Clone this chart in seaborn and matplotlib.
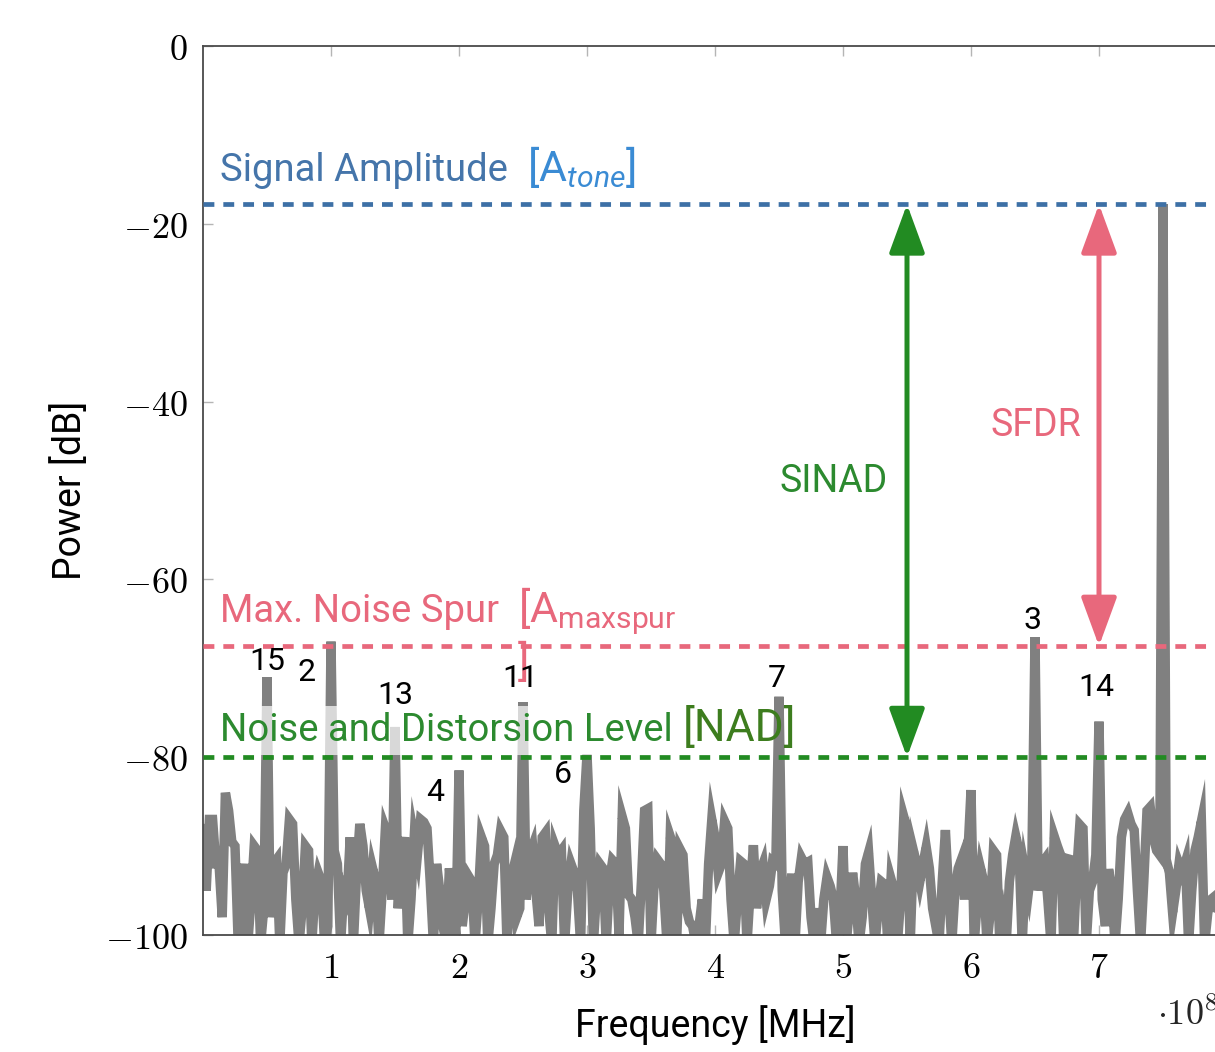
import numpy as np
import pandas as pd
import seaborn as sns
import matplotlib
matplotlib.use("Agg")
import matplotlib.pyplot as plt
from matplotlib.ticker import FixedLocator, FuncFormatter

# ---------------------------------------------------------------- data
bin_step_hz = 0.025e8  # FFT bin spacing

# power spectrum, one value per bin from 0 Hz to 8e8 Hz (10 bins per row = 0.25e8 Hz)
power_db = [
    -88, -95, -87, -87, -92, -92, -98, -84, -86, -89.5,
    -90, -101, -95, -92, -101, -96, -90, -90.5, -101, -97,
    -71, -98, -92, -91.5, -101, -93, -92, -87, -87.5, -96,
    -101, -97, -90, -90.5, -101, -95, -93, -94, -101, -99,
    -67, -90.5, -92, -101, -95, -96, -89, -101, -93, -87.5,
    -90, -95, -97, -92.5, -94, -101, -95, -88, -89, -96,
    -76.6, -97, -91.5, -89, -101, -96, -89, -91, -87, -87.3,
    -88, -94, -101, -92, -95, -99, -101, -92.5, -96, -100,
    -81.5, -99, -96, -93.4, -94, -101, -96, -89, -90, -101,
    -97, -92, -91, -88.3, -89, -101, -94, -92.5, -98, -97,
    -73.8, -96, -91, -90, -95, -99, -89, -88.5, -97, -101,
    -90, -91, -90.5, -101, -95, -92, -93, -95, -101, -86,
    -79.7, -88, -101, -95, -92, -92.5, -101, -94, -91.6, -92,
    -100, -86.7, -88, -95.5, -96, -98, -101, -94, -86, -85.8,
    -101, -94, -91.5, -92, -95, -101, -88.9, -90, -101, -90.3,
    -91, -97, -98.5, -99, -101, -99, -96, -101, -92, -87,
    -89, -93, -92, -87.2, -88, -96, -101, -96, -91.7, -92,
    -101, -95, -89.9, -97, -93, -92, -96, -94.5, -91.7, -92,
    -73.2, -95, -101, -97, -93.1, -101, -94, -91.3, -92, -91.8,
    -98, -101, -97, -101, -96, -93.5, -94.5, -96, -101, -98,
    -90, -101, -97, -93, -96, -101, -98, -92, -90.7, -96,
    -101, -97, -94, -94.3, -101, -93.7, -95, -101, -96, -86.7,
    -88, -101, -90.5, -92, -94, -92, -90.1, -92.5, -97, -99,
    -101, -94, -88.2, -95, -101, -95, -92.5, -91.5, -96, -91,
    -83.7, -101, -96, -92.5, -94, -101, -97.5, -90.5, -91, -101,
    -98.5, -101, -94, -91, -88.9, -90.5, -101, -93, -95, -92,
    -66.5, -95, -92, -91.5, -96, -101, -88.9, -90, -91, -101,
    -91.4, -91.5, -101, -93, -87.6, -88, -101, -95, -94, -91,
    -76, -96, -99, -92.6, -95, -101, -96, -89, -87, -86.3,
    -87.5, -88.2, -95, -101, -94, -86, -85.6, -89, -90.5, -91,
    -17.8, -91.5, -93, -97.5, -95, -92, -93, -91.8, -101, -95,
    -90.5, -89, -87.2, -101, -97.5, -96, -95.7, -98, -96, -101,
    -97,
]
freq_hz = np.arange(len(power_db)) * bin_step_hz

# reference levels [dB]
tone_db = -17.8
max_spur_db = -67.5
nad_db = -80.0

# harmonic orders and the bins they fall into
harmonic_orders = [15, 2, 13, 4, 11, 6, 7, 3, 14]
harmonic_freq_hz = [0.5e8, 1.0e8, 1.5e8, 2.0e8, 2.5e8, 3.0e8, 4.5e8, 6.5e8, 7.0e8]

x_ticks_hz = [1e8, 2e8, 3e8, 4e8, 5e8, 6e8, 7e8]
y_ticks_db = [0, -20, -40, -60, -80, -100]

# ---------------------------------------------------------------- style
sns.set_theme(style="white")
plt.rcParams["font.family"] = ["Roboto", "DejaVu Sans"]
plt.rcParams["mathtext.fontset"] = "cm"
plt.rcParams["mathtext.rm"] = "Roboto"
plt.rcParams["mathtext.it"] = "Roboto:italic"
plt.rcParams["mathtext.bf"] = "Roboto:bold"

c_spec = "#808080"
c_blue = "#3d70a6"
c_blue_txt = "#4575aa"
c_blue_br = "#3a8bd4"
c_pink = "#e8687c"
c_green = "#228b22"
c_green_txt = "#2c8a2f"
c_green_br = "#3d7d1e"

fig = plt.figure(figsize=(12.15, 10.52), dpi=100)
# the frequency axis runs on past the right edge of the figure
ax = fig.add_axes([203 / 1215, 117 / 1052, 1024 / 1215, 889 / 1052])

df = pd.DataFrame({"freq": freq_hz, "power": power_db})
sns.lineplot(data=df, x="freq", y="power", ax=ax, color=c_spec, linewidth=6.8,
             estimator=None, sort=False, solid_joinstyle="miter", zorder=2)

dash_kw = dict(lw=3.4, dashes=(2.3, 1.9), zorder=3)
ax.axhline(tone_db, color=c_blue, **dash_kw)
ax.axhline(max_spur_db, color=c_pink, **dash_kw)
ax.axhline(nad_db, color=c_green, **dash_kw)

# SINAD / SFDR double arrows
arrow_style = "<|-|>,head_length=1.5,head_width=0.55"
ax.annotate("", xy=(5.5e8, nad_db), xytext=(5.5e8, tone_db),
            arrowprops=dict(arrowstyle=arrow_style, mutation_scale=20, lw=3.6,
                            color=c_green, shrinkA=0, shrinkB=0), zorder=4)
ax.annotate("", xy=(7.0e8, max_spur_db), xytext=(7.0e8, tone_db),
            arrowprops=dict(arrowstyle=arrow_style, mutation_scale=20, lw=3.6,
                            color=c_pink, shrinkA=0, shrinkB=0), zorder=4)
ax.text(4.93e8, -49.0, "SINAD", color=c_green_txt, fontsize=27,
        ha="center", va="center", zorder=5)
ax.text(6.51e8, -42.7, "SFDR", color=c_pink, fontsize=27,
        ha="center", va="center", zorder=5)

# level captions
ax.text(0.13e8, -15.2, "Signal Amplitude", color=c_blue_txt, fontsize=27.5,
        va="baseline", zorder=5)
ax.text(2.53e8, -15.2, r"$\mathregular{[A}_{\mathit{tone}}\mathregular{]}$",
        color=c_blue_br, fontsize=31, va="baseline", math_fontfamily="custom", zorder=5)

ax.text(0.13e8, -64.8, "Max. Noise Spur", color=c_pink, fontsize=27.5,
        va="baseline", zorder=5)
ax.text(2.46e8, -64.8, r"$\mathregular{[A}_{\mathregular{maxspur}}$",
        color=c_pink, fontsize=31, va="baseline", math_fontfamily="custom", zorder=5)
ax.text(2.46e8, -69.4, "]", color=c_pink, fontsize=31, va="center", zorder=5)

ax.text(0.13e8, -78.2, "Noise and Distorsion Level", color=c_green_txt, fontsize=27.5,
        va="baseline", zorder=5,
        bbox=dict(boxstyle="square,pad=0.15", facecolor="white", alpha=0.7,
                  edgecolor="none"))
ax.text(3.75e8, -78.2, "[NAD]", color=c_green_br, fontsize=32,
        va="baseline", zorder=5)

# harmonic order labels
label_pos = {15: (0.5e8, -69.2), 2: (0.81e8, -70.5), 13: (1.5e8, -73.1),
             4: (1.81e8, -84.0), 11: (2.48e8, -71.2), 6: (2.81e8, -82.0),
             7: (4.48e8, -71.2), 3: (6.48e8, -64.6), 14: (6.98e8, -72.2)}
for order, f in zip(harmonic_orders, harmonic_freq_hz):
    lx, ly = label_pos[order]
    ax.text(lx, ly, str(order), color="black", fontsize=23,
            ha="center", va="center", zorder=5)

# ---------------------------------------------------------------- axes
ax.set_xlim(0, 8e8)
ax.set_ylim(-100, 0)
ax.xaxis.set_major_locator(FixedLocator(x_ticks_hz))
ax.yaxis.set_major_locator(FixedLocator(y_ticks_db))
ax.xaxis.set_major_formatter(FuncFormatter(lambda v, p: f"${v / 1e8:g}$"))
ax.yaxis.set_major_formatter(FuncFormatter(lambda v, p: f"${v:g}$"))
ax.tick_params(axis="both", direction="in", length=7, width=1.0, color="#b5b5b5",
               labelsize=26, labelcolor="black", top=True, right=True,
               bottom=True, left=True)
ax.tick_params(axis="x", pad=11)
ax.tick_params(axis="y", pad=11)

for s in ax.spines.values():
    s.set_color("#4a4a4a")
    s.set_linewidth(1.3)

ax.set_xlabel("Frequency [MHz]", fontsize=27, color="black")
ax.set_ylabel("Power [dB]", fontsize=27, color="black")
ax.xaxis.set_label_coords(0.5, -0.101)
ax.xaxis.label.set_va("center")
ax.yaxis.set_label_coords(-0.13, 0.5)
ax.yaxis.label.set_va("center")

ax.text(0.932, -0.09, r"$\cdot 10^{8}$", transform=ax.transAxes, fontsize=26,
        ha="left", va="center")

fig.savefig("out.png", dpi=100)
